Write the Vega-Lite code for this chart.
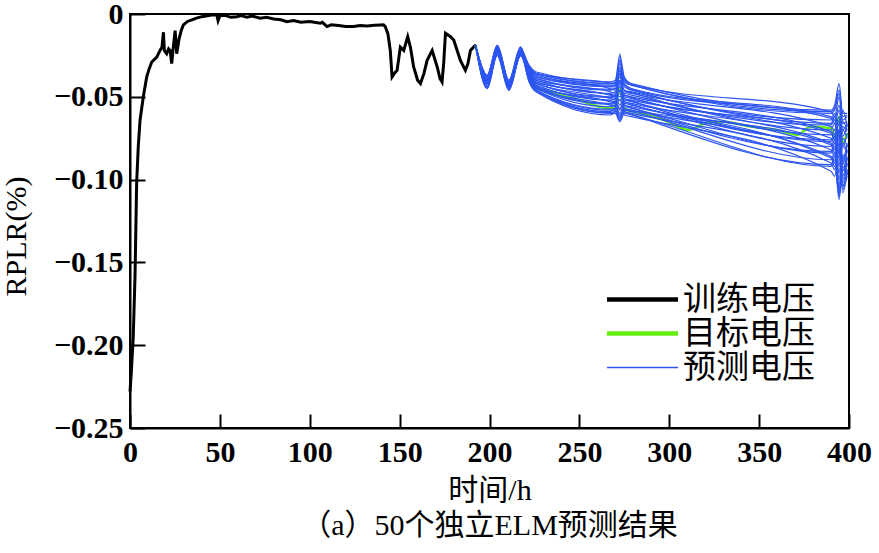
{
"$schema": "https://vega.github.io/schema/vega-lite/v6.json",
"width": 719,
"height": 414,
"autosize": {"type": "none"},
"padding": {"left": 130, "top": 14, "right": 30, "bottom": 125},
"background": "white",
"config": {
  "view": {"stroke": "black", "strokeWidth": 2},
  "axis": {"domainColor": "black", "domainWidth": 2, "tickColor": "black", "tickWidth": 2, "grid": false, "labelColor": "black", "titleColor": "black", "labelFont": "Liberation Serif", "labelFontWeight": "bold", "labelFontSize": 30, "titleFont": "Liberation Serif, Noto Sans CJK SC", "titleFontWeight": "normal"}
},
"title": {"text": "（a）50个独立ELM预测结果", "orient": "bottom", "anchor": "middle", "font": "Liberation Serif, Noto Sans CJK SC", "fontSize": 30, "fontWeight": "normal", "color": "black", "offset": 6},
"datasets": {
"train": [{"x":0,"y":-0.228},{"x":0.8,"y":-0.215},{"x":1.8,"y":-0.195},{"x":2.8,"y":-0.158},{"x":3.7,"y":-0.102},{"x":4.6,"y":-0.08},{"x":5.6,"y":-0.064},{"x":7.4,"y":-0.05},{"x":9.3,"y":-0.038},{"x":10.7,"y":-0.033},{"x":12.1,"y":-0.029},{"x":14.9,"y":-0.026},{"x":16.7,"y":-0.022},{"x":17.8,"y":-0.02},{"x":18.6,"y":-0.011},{"x":19.1,"y":-0.022},{"x":20.4,"y":-0.024},{"x":21.5,"y":-0.021},{"x":22.3,"y":-0.022},{"x":23.2,"y":-0.03},{"x":24.1,"y":-0.02},{"x":25.1,"y":-0.01},{"x":26,"y":-0.024},{"x":27.3,"y":-0.015},{"x":28.5,"y":-0.01},{"x":29.7,"y":-0.0066},{"x":32,"y":-0.0045},{"x":34.4,"y":-0.0036},{"x":37,"y":-0.0025},{"x":39.9,"y":-0.0016},{"x":43,"y":-0.001},{"x":45.5,"y":-0.0006},{"x":47,"y":-0.0004},{"x":48.3,"y":-0.0006},{"x":49,"y":-0.004},{"x":50,"y":-0.001},{"x":53,"y":-0.0008},{"x":56,"y":-0.002},{"x":59.4,"y":-0.0016},{"x":62,"y":-0.001},{"x":65,"y":-0.002},{"x":68,"y":-0.0012},{"x":72.4,"y":-0.0026},{"x":76,"y":-0.002},{"x":80,"y":-0.003},{"x":84,"y":-0.0035},{"x":87.3,"y":-0.0046},{"x":91,"y":-0.004},{"x":95,"y":-0.005},{"x":100,"y":-0.0045},{"x":105.8,"y":-0.0056},{"x":107,"y":-0.005},{"x":109.6,"y":-0.0076},{"x":112,"y":-0.0065},{"x":116,"y":-0.007},{"x":120,"y":-0.0075},{"x":124.4,"y":-0.0076},{"x":128,"y":-0.007},{"x":132,"y":-0.0072},{"x":136,"y":-0.0068},{"x":139.3,"y":-0.0066},{"x":141,"y":-0.0065},{"x":142,"y":-0.0076},{"x":143.5,"y":-0.012},{"x":144.8,"y":-0.022},{"x":145.8,"y":-0.038},{"x":147,"y":-0.036},{"x":148.6,"y":-0.034},{"x":150.4,"y":-0.02},{"x":152.3,"y":-0.022},{"x":154.5,"y":-0.0137},{"x":156,"y":-0.02},{"x":157.8,"y":-0.032},{"x":160,"y":-0.04},{"x":161.6,"y":-0.042},{"x":163.5,"y":-0.036},{"x":165.3,"y":-0.028},{"x":168.1,"y":-0.022},{"x":170.9,"y":-0.032},{"x":172.5,"y":-0.039},{"x":173.6,"y":-0.041},{"x":174.5,"y":-0.03},{"x":175.5,"y":-0.0116},{"x":178.3,"y":-0.0137},{"x":180.1,"y":-0.0157},{"x":182,"y":-0.022},{"x":183.8,"y":-0.028},{"x":186.6,"y":-0.034},{"x":188,"y":-0.03},{"x":189.4,"y":-0.022},{"x":192.2,"y":-0.0187}],
"target": [{"x":192.2,"y":-0.0187},{"x":198.7,"y":-0.041},{"x":204.3,"y":-0.021},{"x":210.8,"y":-0.044},{"x":217.3,"y":-0.022},{"x":222,"y":-0.034},{"x":226,"y":-0.044},{"x":230,"y":-0.046},{"x":247,"y":-0.051},{"x":267,"y":-0.057},{"x":270,"y":-0.055},{"x":272.5,"y":-0.045},{"x":275,"y":-0.057},{"x":284,"y":-0.06},{"x":297,"y":-0.064},{"x":311,"y":-0.07},{"x":320,"y":-0.066},{"x":330,"y":-0.065},{"x":345,"y":-0.068},{"x":360,"y":-0.07},{"x":371,"y":-0.073},{"x":379,"y":-0.068},{"x":390,"y":-0.069},{"x":392,"y":-0.075},{"x":394.5,"y":-0.062},{"x":396.5,"y":-0.078},{"x":399,"y":-0.072}],
"pred": [
{"r":1,"x":192.2,"y":-0.0187},{"r":1,"x":198.7,"y":-0.039},{"r":1,"x":204.3,"y":-0.021},{"r":1,"x":210.8,"y":-0.042},{"r":1,"x":217.3,"y":-0.022},{"r":1,"x":222,"y":-0.031},{"r":1,"x":226,"y":-0.035},{"r":1,"x":267,"y":-0.041},{"r":1,"x":270,"y":-0.04},{"r":1,"x":272.5,"y":-0.025},{"r":1,"x":275,"y":-0.038},{"r":1,"x":279,"y":-0.042},{"r":1,"x":390,"y":-0.058},{"r":1,"x":392,"y":-0.055},{"r":1,"x":394.5,"y":-0.042},{"r":1,"x":396.5,"y":-0.06},{"r":1,"x":399,"y":-0.06},
{"r":2,"x":192.2,"y":-0.0187},{"r":2,"x":198.7,"y":-0.04},{"r":2,"x":204.3,"y":-0.022},{"r":2,"x":210.8,"y":-0.043},{"r":2,"x":217.3,"y":-0.023},{"r":2,"x":222,"y":-0.032},{"r":2,"x":226,"y":-0.036},{"r":2,"x":267,"y":-0.042},{"r":2,"x":270,"y":-0.041},{"r":2,"x":272.5,"y":-0.03},{"r":2,"x":275,"y":-0.04},{"r":2,"x":279,"y":-0.043},{"r":2,"x":390,"y":-0.06},{"r":2,"x":392,"y":-0.058},{"r":2,"x":394.5,"y":-0.048},{"r":2,"x":396.5,"y":-0.066},{"r":2,"x":399,"y":-0.065},
{"r":3,"x":192.2,"y":-0.0187},{"r":3,"x":198.7,"y":-0.041},{"r":3,"x":204.3,"y":-0.021},{"r":3,"x":210.8,"y":-0.041},{"r":3,"x":217.3,"y":-0.022},{"r":3,"x":222,"y":-0.032},{"r":3,"x":226,"y":-0.037},{"r":3,"x":267,"y":-0.043},{"r":3,"x":270,"y":-0.043},{"r":3,"x":272.5,"y":-0.034},{"r":3,"x":275,"y":-0.042},{"r":3,"x":279,"y":-0.045},{"r":3,"x":390,"y":-0.062},{"r":3,"x":392,"y":-0.064},{"r":3,"x":394.5,"y":-0.055},{"r":3,"x":396.5,"y":-0.07},{"r":3,"x":399,"y":-0.066},
{"r":4,"x":192.2,"y":-0.0187},{"r":4,"x":198.7,"y":-0.04},{"r":4,"x":204.3,"y":-0.023},{"r":4,"x":210.8,"y":-0.044},{"r":4,"x":217.3,"y":-0.023},{"r":4,"x":222,"y":-0.033},{"r":4,"x":226,"y":-0.038},{"r":4,"x":267,"y":-0.044},{"r":4,"x":270,"y":-0.044},{"r":4,"x":272.5,"y":-0.038},{"r":4,"x":275,"y":-0.044},{"r":4,"x":279,"y":-0.046},{"r":4,"x":390,"y":-0.064},{"r":4,"x":392,"y":-0.06},{"r":4,"x":394.5,"y":-0.072},{"r":4,"x":396.5,"y":-0.058},{"r":4,"x":399,"y":-0.068},
{"r":5,"x":192.2,"y":-0.0187},{"r":5,"x":198.7,"y":-0.042},{"r":5,"x":204.3,"y":-0.022},{"r":5,"x":210.8,"y":-0.043},{"r":5,"x":217.3,"y":-0.024},{"r":5,"x":222,"y":-0.033},{"r":5,"x":226,"y":-0.038},{"r":5,"x":267,"y":-0.045},{"r":5,"x":270,"y":-0.046},{"r":5,"x":272.5,"y":-0.041},{"r":5,"x":275,"y":-0.046},{"r":5,"x":279,"y":-0.047},{"r":5,"x":390,"y":-0.066},{"r":5,"x":392,"y":-0.062},{"r":5,"x":394.5,"y":-0.075},{"r":5,"x":396.5,"y":-0.065},{"r":5,"x":399,"y":-0.07},
{"r":6,"x":192.2,"y":-0.0187},{"r":6,"x":198.7,"y":-0.039},{"r":6,"x":204.3,"y":-0.022},{"r":6,"x":210.8,"y":-0.042},{"r":6,"x":217.3,"y":-0.022},{"r":6,"x":222,"y":-0.034},{"r":6,"x":226,"y":-0.039},{"r":6,"x":267,"y":-0.046},{"r":6,"x":270,"y":-0.045},{"r":6,"x":272.5,"y":-0.047},{"r":6,"x":275,"y":-0.047},{"r":6,"x":279,"y":-0.048},{"r":6,"x":390,"y":-0.068},{"r":6,"x":392,"y":-0.07},{"r":6,"x":394.5,"y":-0.062},{"r":6,"x":396.5,"y":-0.08},{"r":6,"x":399,"y":-0.072},
{"r":7,"x":192.2,"y":-0.0187},{"r":7,"x":198.7,"y":-0.041},{"r":7,"x":204.3,"y":-0.023},{"r":7,"x":210.8,"y":-0.043},{"r":7,"x":217.3,"y":-0.023},{"r":7,"x":222,"y":-0.034},{"r":7,"x":226,"y":-0.04},{"r":7,"x":267,"y":-0.047},{"r":7,"x":270,"y":-0.048},{"r":7,"x":272.5,"y":-0.05},{"r":7,"x":275,"y":-0.048},{"r":7,"x":279,"y":-0.049},{"r":7,"x":390,"y":-0.07},{"r":7,"x":392,"y":-0.066},{"r":7,"x":394.5,"y":-0.085},{"r":7,"x":396.5,"y":-0.07},{"r":7,"x":399,"y":-0.075},
{"r":8,"x":192.2,"y":-0.0187},{"r":8,"x":198.7,"y":-0.04},{"r":8,"x":204.3,"y":-0.021},{"r":8,"x":210.8,"y":-0.044},{"r":8,"x":217.3,"y":-0.022},{"r":8,"x":222,"y":-0.035},{"r":8,"x":226,"y":-0.04},{"r":8,"x":267,"y":-0.048},{"r":8,"x":270,"y":-0.047},{"r":8,"x":272.5,"y":-0.044},{"r":8,"x":275,"y":-0.049},{"r":8,"x":279,"y":-0.05},{"r":8,"x":390,"y":-0.071},{"r":8,"x":392,"y":-0.074},{"r":8,"x":394.5,"y":-0.066},{"r":8,"x":396.5,"y":-0.088},{"r":8,"x":399,"y":-0.078},
{"r":9,"x":192.2,"y":-0.0187},{"r":9,"x":198.7,"y":-0.042},{"r":9,"x":204.3,"y":-0.022},{"r":9,"x":210.8,"y":-0.042},{"r":9,"x":217.3,"y":-0.024},{"r":9,"x":222,"y":-0.035},{"r":9,"x":226,"y":-0.041},{"r":9,"x":267,"y":-0.049},{"r":9,"x":270,"y":-0.05},{"r":9,"x":272.5,"y":-0.055},{"r":9,"x":275,"y":-0.05},{"r":9,"x":279,"y":-0.051},{"r":9,"x":390,"y":-0.073},{"r":9,"x":392,"y":-0.07},{"r":9,"x":394.5,"y":-0.092},{"r":9,"x":396.5,"y":-0.075},{"r":9,"x":399,"y":-0.08},
{"r":10,"x":192.2,"y":-0.0187},{"r":10,"x":198.7,"y":-0.041},{"r":10,"x":204.3,"y":-0.023},{"r":10,"x":210.8,"y":-0.043},{"r":10,"x":217.3,"y":-0.023},{"r":10,"x":222,"y":-0.036},{"r":10,"x":226,"y":-0.042},{"r":10,"x":267,"y":-0.05},{"r":10,"x":270,"y":-0.049},{"r":10,"x":272.5,"y":-0.036},{"r":10,"x":275,"y":-0.051},{"r":10,"x":279,"y":-0.052},{"r":10,"x":390,"y":-0.075},{"r":10,"x":392,"y":-0.078},{"r":10,"x":394.5,"y":-0.07},{"r":10,"x":396.5,"y":-0.095},{"r":10,"x":399,"y":-0.082},
{"r":11,"x":192.2,"y":-0.0187},{"r":11,"x":198.7,"y":-0.04},{"r":11,"x":204.3,"y":-0.022},{"r":11,"x":210.8,"y":-0.044},{"r":11,"x":217.3,"y":-0.022},{"r":11,"x":222,"y":-0.036},{"r":11,"x":226,"y":-0.042},{"r":11,"x":267,"y":-0.051},{"r":11,"x":270,"y":-0.052},{"r":11,"x":272.5,"y":-0.058},{"r":11,"x":275,"y":-0.052},{"r":11,"x":279,"y":-0.053},{"r":11,"x":390,"y":-0.077},{"r":11,"x":392,"y":-0.074},{"r":11,"x":394.5,"y":-0.1},{"r":11,"x":396.5,"y":-0.08},{"r":11,"x":399,"y":-0.084},
{"r":12,"x":192.2,"y":-0.0187},{"r":12,"x":198.7,"y":-0.039},{"r":12,"x":204.3,"y":-0.021},{"r":12,"x":210.8,"y":-0.042},{"r":12,"x":217.3,"y":-0.023},{"r":12,"x":222,"y":-0.037},{"r":12,"x":226,"y":-0.043},{"r":12,"x":267,"y":-0.052},{"r":12,"x":270,"y":-0.051},{"r":12,"x":272.5,"y":-0.048},{"r":12,"x":275,"y":-0.053},{"r":12,"x":279,"y":-0.054},{"r":12,"x":390,"y":-0.078},{"r":12,"x":392,"y":-0.082},{"r":12,"x":394.5,"y":-0.072},{"r":12,"x":396.5,"y":-0.098},{"r":12,"x":399,"y":-0.086},
{"r":13,"x":192.2,"y":-0.0187},{"r":13,"x":198.7,"y":-0.042},{"r":13,"x":204.3,"y":-0.023},{"r":13,"x":210.8,"y":-0.043},{"r":13,"x":217.3,"y":-0.024},{"r":13,"x":222,"y":-0.037},{"r":13,"x":226,"y":-0.044},{"r":13,"x":267,"y":-0.053},{"r":13,"x":270,"y":-0.054},{"r":13,"x":272.5,"y":-0.06},{"r":13,"x":275,"y":-0.054},{"r":13,"x":279,"y":-0.055},{"r":13,"x":390,"y":-0.08},{"r":13,"x":392,"y":-0.076},{"r":13,"x":394.5,"y":-0.104},{"r":13,"x":396.5,"y":-0.085},{"r":13,"x":399,"y":-0.088},
{"r":14,"x":192.2,"y":-0.0187},{"r":14,"x":198.7,"y":-0.041},{"r":14,"x":204.3,"y":-0.022},{"r":14,"x":210.8,"y":-0.044},{"r":14,"x":217.3,"y":-0.022},{"r":14,"x":222,"y":-0.038},{"r":14,"x":226,"y":-0.044},{"r":14,"x":267,"y":-0.054},{"r":14,"x":270,"y":-0.053},{"r":14,"x":272.5,"y":-0.042},{"r":14,"x":275,"y":-0.055},{"r":14,"x":279,"y":-0.056},{"r":14,"x":390,"y":-0.082},{"r":14,"x":392,"y":-0.086},{"r":14,"x":394.5,"y":-0.075},{"r":14,"x":396.5,"y":-0.102},{"r":14,"x":399,"y":-0.09},
{"r":15,"x":192.2,"y":-0.0187},{"r":15,"x":198.7,"y":-0.04},{"r":15,"x":204.3,"y":-0.021},{"r":15,"x":210.8,"y":-0.043},{"r":15,"x":217.3,"y":-0.023},{"r":15,"x":222,"y":-0.038},{"r":15,"x":226,"y":-0.045},{"r":15,"x":267,"y":-0.055},{"r":15,"x":270,"y":-0.056},{"r":15,"x":272.5,"y":-0.062},{"r":15,"x":275,"y":-0.056},{"r":15,"x":279,"y":-0.057},{"r":15,"x":390,"y":-0.084},{"r":15,"x":392,"y":-0.08},{"r":15,"x":394.5,"y":-0.108},{"r":15,"x":396.5,"y":-0.088},{"r":15,"x":399,"y":-0.092},
{"r":16,"x":192.2,"y":-0.0187},{"r":16,"x":198.7,"y":-0.043},{"r":16,"x":204.3,"y":-0.023},{"r":16,"x":210.8,"y":-0.042},{"r":16,"x":217.3,"y":-0.024},{"r":16,"x":222,"y":-0.039},{"r":16,"x":226,"y":-0.045},{"r":16,"x":267,"y":-0.056},{"r":16,"x":270,"y":-0.055},{"r":16,"x":272.5,"y":-0.052},{"r":16,"x":275,"y":-0.057},{"r":16,"x":279,"y":-0.058},{"r":16,"x":390,"y":-0.086},{"r":16,"x":392,"y":-0.09},{"r":16,"x":394.5,"y":-0.078},{"r":16,"x":396.5,"y":-0.106},{"r":16,"x":399,"y":-0.094},
{"r":17,"x":192.2,"y":-0.0187},{"r":17,"x":198.7,"y":-0.041},{"r":17,"x":204.3,"y":-0.022},{"r":17,"x":210.8,"y":-0.044},{"r":17,"x":217.3,"y":-0.022},{"r":17,"x":222,"y":-0.039},{"r":17,"x":226,"y":-0.046},{"r":17,"x":267,"y":-0.058},{"r":17,"x":270,"y":-0.058},{"r":17,"x":272.5,"y":-0.064},{"r":17,"x":275,"y":-0.058},{"r":17,"x":279,"y":-0.059},{"r":17,"x":390,"y":-0.088},{"r":17,"x":392,"y":-0.084},{"r":17,"x":394.5,"y":-0.11},{"r":17,"x":396.5,"y":-0.09},{"r":17,"x":399,"y":-0.095},
{"r":18,"x":192.2,"y":-0.0187},{"r":18,"x":198.7,"y":-0.04},{"r":18,"x":204.3,"y":-0.022},{"r":18,"x":210.8,"y":-0.043},{"r":18,"x":217.3,"y":-0.023},{"r":18,"x":222,"y":-0.04},{"r":18,"x":226,"y":-0.046},{"r":18,"x":267,"y":-0.059},{"r":18,"x":270,"y":-0.057},{"r":18,"x":272.5,"y":-0.024},{"r":18,"x":275,"y":-0.059},{"r":18,"x":279,"y":-0.06},{"r":18,"x":390,"y":-0.09},{"r":18,"x":392,"y":-0.094},{"r":18,"x":394.5,"y":-0.082},{"r":18,"x":396.5,"y":-0.108},{"r":18,"x":399,"y":-0.096},
{"r":19,"x":192.2,"y":-0.0187},{"r":19,"x":198.7,"y":-0.042},{"r":19,"x":204.3,"y":-0.021},{"r":19,"x":210.8,"y":-0.042},{"r":19,"x":217.3,"y":-0.024},{"r":19,"x":222,"y":-0.04},{"r":19,"x":226,"y":-0.047},{"r":19,"x":267,"y":-0.06},{"r":19,"x":270,"y":-0.06},{"r":19,"x":272.5,"y":-0.065},{"r":19,"x":275,"y":-0.06},{"r":19,"x":279,"y":-0.061},{"r":19,"x":390,"y":-0.092},{"r":19,"x":392,"y":-0.088},{"r":19,"x":394.5,"y":-0.112},{"r":19,"x":396.5,"y":-0.092},{"r":19,"x":399,"y":-0.097},
{"r":20,"x":192.2,"y":-0.0187},{"r":20,"x":198.7,"y":-0.041},{"r":20,"x":204.3,"y":-0.023},{"r":20,"x":210.8,"y":-0.044},{"r":20,"x":217.3,"y":-0.023},{"r":20,"x":222,"y":-0.041},{"r":20,"x":226,"y":-0.047},{"r":20,"x":267,"y":-0.061},{"r":20,"x":270,"y":-0.059},{"r":20,"x":272.5,"y":-0.033},{"r":20,"x":275,"y":-0.061},{"r":20,"x":279,"y":-0.062},{"r":20,"x":390,"y":-0.095},{"r":20,"x":392,"y":-0.098},{"r":20,"x":394.5,"y":-0.085},{"r":20,"x":396.5,"y":-0.104},{"r":20,"x":399,"y":-0.098},
{"r":21,"x":192.2,"y":-0.0187},{"r":21,"x":198.7,"y":-0.038},{"r":21,"x":204.3,"y":-0.02},{"r":21,"x":210.8,"y":-0.041},{"r":21,"x":217.3,"y":-0.021},{"r":21,"x":222,"y":-0.031},{"r":21,"x":226,"y":-0.036},{"r":21,"x":267,"y":-0.0415},{"r":21,"x":270,"y":-0.042},{"r":21,"x":272.5,"y":-0.028},{"r":21,"x":275,"y":-0.039},{"r":21,"x":279,"y":-0.0425},{"r":21,"x":390,"y":-0.059},{"r":21,"x":392,"y":-0.062},{"r":21,"x":394.5,"y":-0.05},{"r":21,"x":396.5,"y":-0.064},{"r":21,"x":399,"y":-0.062},
{"r":22,"x":192.2,"y":-0.0187},{"r":22,"x":198.7,"y":-0.044},{"r":22,"x":204.3,"y":-0.024},{"r":22,"x":210.8,"y":-0.045},{"r":22,"x":217.3,"y":-0.025},{"r":22,"x":222,"y":-0.033},{"r":22,"x":226,"y":-0.037},{"r":22,"x":267,"y":-0.0435},{"r":22,"x":270,"y":-0.043},{"r":22,"x":272.5,"y":-0.036},{"r":22,"x":275,"y":-0.043},{"r":22,"x":279,"y":-0.0455},{"r":22,"x":390,"y":-0.063},{"r":22,"x":392,"y":-0.066},{"r":22,"x":394.5,"y":-0.058},{"r":22,"x":396.5,"y":-0.074},{"r":22,"x":399,"y":-0.067},
{"r":23,"x":192.2,"y":-0.0187},{"r":23,"x":198.7,"y":-0.037},{"r":23,"x":204.3,"y":-0.019},{"r":23,"x":210.8,"y":-0.04},{"r":23,"x":217.3,"y":-0.02},{"r":23,"x":222,"y":-0.034},{"r":23,"x":226,"y":-0.039},{"r":23,"x":267,"y":-0.0455},{"r":23,"x":270,"y":-0.045},{"r":23,"x":272.5,"y":-0.04},{"r":23,"x":275,"y":-0.046},{"r":23,"x":279,"y":-0.0475},{"r":23,"x":390,"y":-0.067},{"r":23,"x":392,"y":-0.064},{"r":23,"x":394.5,"y":-0.08},{"r":23,"x":396.5,"y":-0.068},{"r":23,"x":399,"y":-0.071},
{"r":24,"x":192.2,"y":-0.0187},{"r":24,"x":198.7,"y":-0.045},{"r":24,"x":204.3,"y":-0.025},{"r":24,"x":210.8,"y":-0.046},{"r":24,"x":217.3,"y":-0.025},{"r":24,"x":222,"y":-0.035},{"r":24,"x":226,"y":-0.041},{"r":24,"x":267,"y":-0.0485},{"r":24,"x":270,"y":-0.049},{"r":24,"x":272.5,"y":-0.052},{"r":24,"x":275,"y":-0.049},{"r":24,"x":279,"y":-0.0505},{"r":24,"x":390,"y":-0.072},{"r":24,"x":392,"y":-0.076},{"r":24,"x":394.5,"y":-0.064},{"r":24,"x":396.5,"y":-0.09},{"r":24,"x":399,"y":-0.079},
{"r":25,"x":192.2,"y":-0.0187},{"r":25,"x":198.7,"y":-0.038},{"r":25,"x":204.3,"y":-0.02},{"r":25,"x":210.8,"y":-0.041},{"r":25,"x":217.3,"y":-0.021},{"r":25,"x":222,"y":-0.036},{"r":25,"x":226,"y":-0.042},{"r":25,"x":267,"y":-0.0505},{"r":25,"x":270,"y":-0.05},{"r":25,"x":272.5,"y":-0.046},{"r":25,"x":275,"y":-0.051},{"r":25,"x":279,"y":-0.0525},{"r":25,"x":390,"y":-0.076},{"r":25,"x":392,"y":-0.072},{"r":25,"x":394.5,"y":-0.096},{"r":25,"x":396.5,"y":-0.078},{"r":25,"x":399,"y":-0.083},
{"r":26,"x":192.2,"y":-0.0187},{"r":26,"x":198.7,"y":-0.044},{"r":26,"x":204.3,"y":-0.024},{"r":26,"x":210.8,"y":-0.045},{"r":26,"x":217.3,"y":-0.025},{"r":26,"x":222,"y":-0.037},{"r":26,"x":226,"y":-0.043},{"r":26,"x":267,"y":-0.0525},{"r":26,"x":270,"y":-0.053},{"r":26,"x":272.5,"y":-0.057},{"r":26,"x":275,"y":-0.053},{"r":26,"x":279,"y":-0.0545},{"r":26,"x":390,"y":-0.079},{"r":26,"x":392,"y":-0.084},{"r":26,"x":394.5,"y":-0.07},{"r":26,"x":396.5,"y":-0.1},{"r":26,"x":399,"y":-0.087},
{"r":27,"x":192.2,"y":-0.0187},{"r":27,"x":198.7,"y":-0.037},{"r":27,"x":204.3,"y":-0.019},{"r":27,"x":210.8,"y":-0.04},{"r":27,"x":217.3,"y":-0.02},{"r":27,"x":222,"y":-0.038},{"r":27,"x":226,"y":-0.045},{"r":27,"x":267,"y":-0.0545},{"r":27,"x":270,"y":-0.054},{"r":27,"x":272.5,"y":-0.04},{"r":27,"x":275,"y":-0.055},{"r":27,"x":279,"y":-0.0565},{"r":27,"x":390,"y":-0.083},{"r":27,"x":392,"y":-0.078},{"r":27,"x":394.5,"y":-0.106},{"r":27,"x":396.5,"y":-0.086},{"r":27,"x":399,"y":-0.091},
{"r":28,"x":192.2,"y":-0.0187},{"r":28,"x":198.7,"y":-0.045},{"r":28,"x":204.3,"y":-0.025},{"r":28,"x":210.8,"y":-0.046},{"r":28,"x":217.3,"y":-0.025},{"r":28,"x":222,"y":-0.039},{"r":28,"x":226,"y":-0.046},{"r":28,"x":267,"y":-0.0575},{"r":28,"x":270,"y":-0.057},{"r":28,"x":272.5,"y":-0.061},{"r":28,"x":275,"y":-0.058},{"r":28,"x":279,"y":-0.0585},{"r":28,"x":390,"y":-0.087},{"r":28,"x":392,"y":-0.092},{"r":28,"x":394.5,"y":-0.08},{"r":28,"x":396.5,"y":-0.104},{"r":28,"x":399,"y":-0.095},
{"r":29,"x":192.2,"y":-0.0187},{"r":29,"x":198.7,"y":-0.038},{"r":29,"x":204.3,"y":-0.02},{"r":29,"x":210.8,"y":-0.041},{"r":29,"x":217.3,"y":-0.021},{"r":29,"x":222,"y":-0.04},{"r":29,"x":226,"y":-0.046},{"r":29,"x":267,"y":-0.0595},{"r":29,"x":270,"y":-0.059},{"r":29,"x":272.5,"y":-0.063},{"r":29,"x":275,"y":-0.059},{"r":29,"x":279,"y":-0.0605},{"r":29,"x":390,"y":-0.091},{"r":29,"x":392,"y":-0.086},{"r":29,"x":394.5,"y":-0.11},{"r":29,"x":396.5,"y":-0.094},{"r":29,"x":399,"y":-0.096},
{"r":30,"x":192.2,"y":-0.0187},{"r":30,"x":198.7,"y":-0.044},{"r":30,"x":204.3,"y":-0.024},{"r":30,"x":210.8,"y":-0.045},{"r":30,"x":217.3,"y":-0.025},{"r":30,"x":222,"y":-0.033},{"r":30,"x":226,"y":-0.036},{"r":30,"x":267,"y":-0.042},{"r":30,"x":270,"y":-0.042},{"r":30,"x":272.5,"y":-0.032},{"r":30,"x":275,"y":-0.041},{"r":30,"x":279,"y":-0.043},{"r":30,"x":390,"y":-0.059},{"r":30,"x":392,"y":-0.057},{"r":30,"x":394.5,"y":-0.046},{"r":30,"x":396.5,"y":-0.062},{"r":30,"x":399,"y":-0.061}
]
},
"encoding": {
  "x": {"field": "x", "type": "quantitative", "scale": {"domain": [0, 400], "nice": false, "zero": false},
        "axis": {"values": [0, 50, 100, 150, 200, 250, 300, 350, 400], "tickSize": -14, "labelPadding": 23, "labelFlush": false, "labelOverlap": false, "title": "时间/h", "titleFontSize": 30, "titlePadding": 8}},
  "y": {"field": "y", "type": "quantitative", "scale": {"domain": [-0.25, 0], "nice": false, "zero": false},
        "axis": {"values": [0, -0.05, -0.1, -0.15, -0.2, -0.25], "tickSize": -15, "labelPadding": 22, "labelFlush": false, "labelOverlap": false, "labelExpr": "datum.value == 0 ? '0' : format(datum.value, '.2f')", "title": "RPLR(%)", "titleFontSize": 30, "titlePadding": 22, "titleY": 222}}
},
"layer": [
  {
    "data": {"name": "train"},
    "mark": {"type": "line", "strokeWidth": 3, "interpolate": "linear"},
    "encoding": {
      "color": {"datum": "训练电压", "type": "nominal",
        "scale": {"domain": ["训练电压", "目标电压", "预测电压"], "range": ["#000000", "#66ee11", "#2d55f0"]},
        "legend": {"orient": "none", "legendX": 496, "legendY": 269, "title": null, "symbolType": "stroke", "symbolSize": 5041, "symbolStrokeWidth": 4, "labelFont": "Noto Sans CJK SC", "labelFontSize": 33, "labelColor": "black", "labelOffset": 24, "rowPadding": -25, "padding": 0,
          "encode": {"symbols": {"update": {"strokeWidth": {"signal": "datum.value === '预测电压' ? 1.3 : 4.5"}}}}}
      }
    }
  },
  {
    "data": {"name": "target"},
    "mark": {"type": "line", "strokeWidth": 2.5, "interpolate": "monotone"},
    "encoding": {"color": {"datum": "目标电压", "type": "nominal"}}
  },
  {
    "data": {"name": "pred"},
    "mark": {"type": "line", "strokeWidth": 1.2, "interpolate": "monotone"},
    "encoding": {"color": {"datum": "预测电压", "type": "nominal"}, "detail": {"field": "r", "type": "nominal"}}
  }
]
}
